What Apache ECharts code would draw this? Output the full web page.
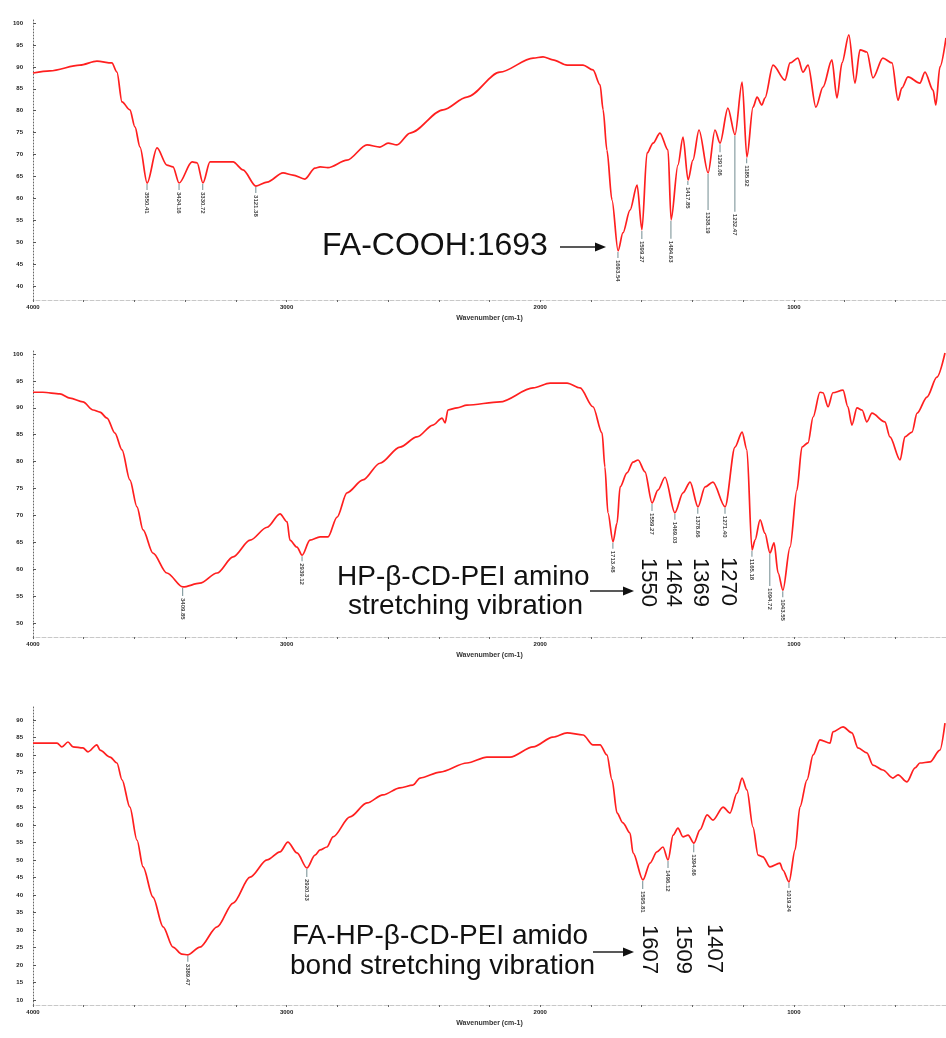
<!DOCTYPE html>
<html>
<head>
<meta charset="utf-8">
<title>FTIR spectra</title>
<script src="https://cdn.jsdelivr.net/npm/echarts@6/dist/echarts.min.js"></script>
<style>
  html, body { margin: 0; padding: 0; background: #fff; }
  #chart { width: 946px; height: 1038px; }
</style>
</head>
<body>
<div id="chart"></div>
<script>
// [wavenumber cm-1, transmittance %]
const faSpectrum = [
  [4000, 88.6], [3933, 89.1], [3815, 90.4], [3748, 91.3], [3689, 90.9], [3669, 88.8], [3649, 82.0],
  [3618, 80.2], [3598, 76.3], [3578, 71.7], [3550, 63.5], [3511, 71.5], [3472, 67.6], [3448, 67.2],
  [3424, 63.5], [3373, 68.3], [3353, 68.1], [3330, 63.5], [3302, 68.3], [3211, 68.3], [3172, 66.5],
  [3121, 62.8], [3077, 63.7], [3014, 65.8], [2975, 65.3], [2928, 64.4], [2888, 66.9], [2868, 67.2],
  [2837, 67.0], [2762, 68.7], [2683, 72.2], [2632, 71.7], [2600, 72.6], [2565, 72.2], [2513, 74.9],
  [2383, 80.2], [2289, 83.1], [2159, 88.8], [2028, 92.0], [1989, 92.3], [1950, 91.6], [1894, 90.4],
  [1831, 90.4], [1792, 89.3], [1764, 85.9], [1752, 80.2], [1737, 71.0], [1717, 59.6], [1693, 48.0],
  [1674, 52.1], [1646, 57.3], [1618, 63.0], [1599, 52.8], [1579, 70.3], [1555, 72.6], [1528, 74.9],
  [1496, 71.0], [1484, 55.1], [1457, 67.6], [1437, 74.0], [1417, 64.2], [1398, 68.7], [1374, 75.6],
  [1338, 65.8], [1311, 75.6], [1291, 72.6], [1260, 80.6], [1232, 74.5], [1204, 86.5], [1185, 69.4],
  [1161, 80.8], [1145, 83.1], [1126, 81.3], [1114, 82.9], [1082, 90.4], [1035, 87.0], [1015, 90.9],
  [984, 92.0], [964, 88.8], [944, 90.4], [913, 80.8], [885, 85.4], [850, 91.6], [830, 82.9],
  [810, 90.9], [783, 97.3], [759, 86.3], [739, 93.9], [712, 93.4], [688, 87.5], [649, 92.0],
  [613, 90.9], [589, 82.4], [574, 85.2], [550, 87.7], [503, 86.3], [483, 88.8], [451, 84.7],
  [440, 81.3], [424, 90.0], [400, 96.6]
];
const pdSpectrum = [
  [4000, 92.9], [3961, 92.9], [3894, 92.6], [3854, 91.8], [3803, 91.1], [3763, 89.6], [3736, 89.2],
  [3708, 88.1], [3677, 85.3], [3649, 82.2], [3618, 76.6], [3590, 71.6], [3566, 67.3], [3527, 63.0],
  [3472, 59.3], [3409, 56.7], [3342, 57.4], [3274, 59.3], [3211, 62.3], [3144, 65.4], [3077, 67.8],
  [3026, 70.3], [2998, 68.8], [2987, 65.4], [2959, 64.1], [2939, 62.6], [2908, 65.4], [2868, 66.0],
  [2837, 66.0], [2801, 69.7], [2762, 74.2], [2699, 76.6], [2632, 79.7], [2553, 82.7], [2486, 84.6],
  [2423, 86.8], [2387, 88.1], [2375, 87.2], [2364, 89.6], [2328, 90.0], [2289, 90.5], [2159, 91.1],
  [2028, 93.7], [1961, 94.6], [1894, 94.6], [1843, 93.7], [1792, 90.2], [1756, 85.3], [1745, 79.0],
  [1733, 70.5], [1713, 65.1], [1697, 68.6], [1685, 75.3], [1658, 77.9], [1634, 79.9], [1614, 80.3],
  [1587, 78.1], [1559, 72.3], [1536, 74.7], [1508, 77.1], [1469, 70.5], [1437, 74.2], [1409, 76.2],
  [1378, 71.6], [1350, 75.3], [1319, 76.2], [1271, 71.6], [1232, 82.7], [1204, 85.5], [1185, 82.2],
  [1165, 63.6], [1153, 65.4], [1133, 69.2], [1114, 66.7], [1094, 63.0], [1078, 64.9], [1062, 59.3],
  [1043, 56.1], [1015, 64.1], [988, 74.7], [968, 82.7], [944, 83.5], [924, 88.3], [897, 92.9],
  [885, 92.8], [865, 90.2], [846, 92.8], [806, 93.3], [787, 90.2], [771, 86.8], [751, 90.0],
  [731, 89.6], [712, 87.4], [692, 89.0], [641, 87.4], [621, 84.6], [581, 80.3], [562, 84.6],
  [534, 85.5], [514, 89.0], [475, 92.0], [436, 95.7], [404, 100.2]
];
const fpSpectrum = [
  [4000, 83.4], [3933, 83.4], [3905, 83.4], [3886, 82.3], [3862, 83.7], [3842, 82.3], [3803, 82.0],
  [3783, 80.9], [3748, 82.9], [3736, 81.4], [3696, 79.4], [3669, 77.7], [3649, 72.9], [3618, 65.1],
  [3590, 55.7], [3566, 48.0], [3527, 39.4], [3487, 30.9], [3448, 25.1], [3413, 23.1], [3389, 22.9],
  [3342, 25.1], [3274, 30.9], [3211, 37.7], [3144, 45.1], [3077, 50.0], [3026, 52.3], [2995, 55.1],
  [2959, 52.0], [2920, 47.7], [2888, 51.4], [2868, 52.9], [2841, 53.7], [2817, 56.6], [2750, 62.3],
  [2683, 66.3], [2620, 68.6], [2553, 70.6], [2502, 71.4], [2474, 73.4], [2395, 75.1], [2289, 77.7],
  [2210, 79.4], [2119, 79.4], [2028, 82.3], [1950, 85.1], [1894, 86.3], [1831, 85.7], [1792, 82.9],
  [1764, 82.9], [1737, 80.0], [1717, 72.9], [1697, 63.4], [1674, 60.6], [1646, 57.7], [1634, 52.0],
  [1595, 44.3], [1567, 49.1], [1540, 52.3], [1516, 53.7], [1496, 50.0], [1476, 57.1], [1457, 59.1],
  [1437, 56.6], [1417, 57.1], [1394, 54.8], [1370, 58.6], [1342, 62.9], [1319, 61.4], [1279, 65.1],
  [1252, 63.4], [1224, 69.1], [1204, 73.4], [1185, 70.0], [1161, 59.4], [1141, 51.4], [1122, 50.9],
  [1094, 48.0], [1055, 49.1], [1043, 47.1], [1019, 43.7], [995, 52.9], [976, 65.1], [948, 72.9],
  [924, 80.0], [897, 84.3], [857, 83.4], [846, 86.6], [806, 88.0], [771, 86.3], [747, 82.0],
  [712, 80.6], [688, 77.1], [649, 75.7], [609, 73.4], [589, 74.3], [554, 72.3], [522, 76.3],
  [503, 77.7], [463, 78.0], [424, 81.4], [404, 89.1]
];

// picked peaks [wavenumber, transmittance]
const faPeaks = [
  [3550.41, 63.5], [3424.16, 63.5], [3330.72, 63.5], [3121.38, 62.8], [1693.54, 48.0], [1599.27, 52.8],
  [1484.63, 55.1], [1417.85, 64.2], [1338.19, 65.8], [1291.06, 72.6], [1232.47, 74.5], [1185.92, 69.4]
];
const pdPeaks = [
  [3409.85, 56.7], [2939.12, 62.6], [1713.48, 65.1], [1559.27, 72.3], [1469.03, 70.5],
  [1378.66, 71.6], [1271.40, 71.6], [1165.18, 63.6], [1094.72, 63.0], [1043.55, 56.1]
];
const fpPeaks = [
  [3389.47, 22.9], [2920.33, 47.7], [1595.81, 44.3], [1496.12, 50.0], [1394.66, 54.8], [1019.24, 43.7]
];

const faTicks = [100, 95, 90, 85, 80, 75, 70, 65, 60, 55, 50, 45, 40];
const pdTicks = [100, 95, 90, 85, 80, 75, 70, 65, 60, 55, 50];
const fpTicks = [90, 85, 80, 75, 70, 65, 60, 55, 50, 45, 40, 35, 30, 25, 20, 15, 10];
const xTickLabels = [4000, 3000, 2000, 1000];

// leader line length under each peak label (px)
const leaderLen = [
  [6, 6, 6, 6, 6, 8, 18, 4, 36, 8, 76, 5],
  [8, 5, 6, 7, 6, 6, 6, 6, 32, 6],
  [6, 8, 8, 7, 8, 5]
];

const panels = [
  { data: faSpectrum, peaks: faPeaks, ticks: faTicks, min: 36.8, max: 100.7, top: 20, height: 280 },
  { data: pdSpectrum, peaks: pdPeaks, ticks: pdTicks, min: 47.4, max: 100.75, top: 350, height: 287 },
  { data: fpSpectrum, peaks: fpPeaks, ticks: fpTicks, min: 8.57, max: 93.7, top: 707, height: 298 }
];

const tinyText = { fontSize: 6, fontWeight: 'bold', color: '#222', fontFamily: 'Liberation Sans' };

const grid = [], xAxis = [], yAxis = [], series = [];
panels.forEach((p, i) => {
  grid.push({ left: 33, right: 0, top: p.top, height: p.height });
  xAxis.push({
    type: 'value', gridIndex: i, min: 400, max: 4000, interval: 200, inverse: true,
    name: 'Wavenumber (cm-1)', nameLocation: 'middle', nameGap: 15,
    nameTextStyle: { fontSize: 7, fontWeight: 'bold', color: '#333', fontFamily: 'Liberation Sans' },
    axisLine: { lineStyle: { color: '#c8c8c8', type: 'dashed', width: 1 } },
    axisTick: { length: 2, lineStyle: { color: '#666' } },
    axisLabel: Object.assign({ customValues: xTickLabels, margin: 4, formatter: v => String(v) }, tinyText),
    splitLine: { show: false }
  });
  yAxis.push({
    type: 'value', gridIndex: i, min: p.min, max: p.max,
    axisLine: { show: true, lineStyle: { color: '#666', type: [1, 2], width: 1 } },
    axisTick: { show: true, customValues: p.ticks, inside: true, length: 3, lineStyle: { color: '#555' } },
    axisLabel: Object.assign({ customValues: p.ticks, margin: 10, formatter: v => String(v) }, tinyText),
    splitLine: { show: false }
  });
  series.push({
    type: 'line', xAxisIndex: i, yAxisIndex: i, data: p.data,
    showSymbol: false, smooth: 0.3, smoothMonotone: 'x',
    lineStyle: { color: '#ff1f1f', width: 1.7 }, silent: true, z: 2
  });
  series.push({
    type: 'scatter', xAxisIndex: i, yAxisIndex: i, symbol: 'rect', silent: true, z: 3,
    data: p.peaks.map((pk, j) => ({
      value: pk,
      symbolSize: [1, leaderLen[i][j]],
      symbolOffset: [0, leaderLen[i][j] / 2 + 1]
    })),
    itemStyle: { color: '#4f6f76' },
    label: Object.assign({
      show: true, position: 'bottom', distance: 2, rotate: -90,
      align: 'left', verticalAlign: 'middle',
      formatter: prm => prm.value[0].toFixed(2)
    }, tinyText, { color: '#111' })
  });
});

const bigFont = '28px "Liberation Sans", Arial, sans-serif';
const numFont = '22px "Liberation Sans", Arial, sans-serif';
function label(text, x, y, font) {
  return { type: 'text', x: x, y: y, z: 10, style: { text: text, font: font, fill: '#111', align: 'left', verticalAlign: 'middle' } };
}
function vertNum(text, x, y) {
  return { type: 'text', x: x, y: y, rotation: -Math.PI / 2, z: 10, style: { text: text, font: numFont, fill: '#111', align: 'left', verticalAlign: 'middle' } };
}
function arrow(x1, x2, y) {
  return [
    { type: 'line', z: 10, shape: { x1: x1, y1: y, x2: x2 - 8, y2: y }, style: { stroke: '#222', lineWidth: 1.5 } },
    { type: 'polygon', z: 10, shape: { points: [[x2 - 11, y - 4.5], [x2, y], [x2 - 11, y + 4.5]] }, style: { fill: '#111' } }
  ];
}

const graphic = [
  label('FA-COOH:1693', 322, 246, '32px "Liberation Sans", Arial, sans-serif'),
  ...arrow(560, 606, 247),
  label('HP-β-CD-PEI amino', 337, 577, bigFont),
  label('stretching vibration', 348, 606, bigFont),
  ...arrow(590, 634, 591),
  vertNum('1550', 648.5, 558), vertNum('1464', 673.5, 558), vertNum('1369', 700, 558), vertNum('1270', 728.5, 557),
  label('FA-HP-β-CD-PEI amido', 292, 936, bigFont),
  label('bond stretching vibration', 290, 966, bigFont),
  ...arrow(593, 634, 952),
  vertNum('1607', 649, 925), vertNum('1509', 683, 925), vertNum('1407', 714, 924)
];

const chart = echarts.init(document.getElementById('chart'), null, { renderer: 'canvas' });
chart.setOption({
  animation: false,
  backgroundColor: '#fff',
  grid: grid,
  xAxis: xAxis,
  yAxis: yAxis,
  series: series,
  graphic: graphic
});
</script>
</body>
</html>
